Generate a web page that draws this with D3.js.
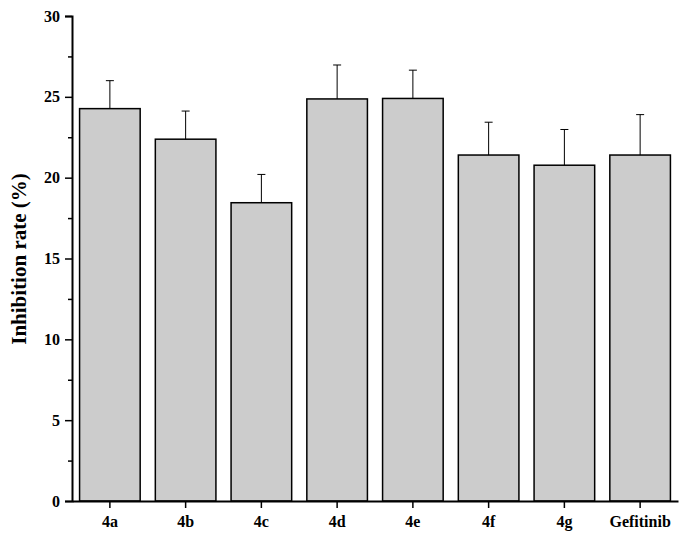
<!DOCTYPE html>
<html><head><meta charset="utf-8">
<script src="https://cdn.jsdelivr.net/npm/d3@7"></script>
<style>body{margin:0;background:#fff}text{font-family:"Liberation Serif","Times New Roman",serif;font-weight:bold}</style>
</head><body><svg id="chart" width="683" height="544"></svg>
<script>
const categories = ['4a', '4b', '4c', '4d', '4e', '4f', '4g', 'Gefitinib'];
const values = [24.27, 22.38, 18.45, 24.87, 24.9, 21.4, 20.77, 21.4];
const errors = [1.73, 1.74, 1.75, 2.1, 1.75, 2.03, 2.21, 2.5];
const yTicks = [0, 5, 10, 15, 20, 25, 30];

const svg = d3.select('#chart');
const x = d3.scaleBand().domain(categories).range([72, 678]).paddingInner(0.2).paddingOuter(0.1);
const y = d3.scaleLinear().domain([0, 30]).range([501, 16]);

// bars
svg.selectAll('.bar').data(categories).enter().append('rect')
  .attr('class', 'bar')
  .attr('x', d => x(d)).attr('width', x.bandwidth())
  .attr('y', (d, i) => y(values[i])).attr('height', (d, i) => y(0) - y(values[i]))
  .attr('fill', '#cccccc').attr('stroke', '#000').attr('stroke-width', 1.5);

// error bars (upper only)
categories.forEach((c, i) => {
  const cx = x(c) + x.bandwidth() / 2;
  svg.append('line').attr('x1', cx).attr('x2', cx)
    .attr('y1', y(values[i])).attr('y2', y(values[i] + errors[i])).attr('stroke', '#000');
  svg.append('line').attr('x1', cx - 4).attr('x2', cx + 4)
    .attr('y1', y(values[i] + errors[i])).attr('y2', y(values[i] + errors[i])).attr('stroke', '#000');
});

// y axis
const yAxis = svg.append('g').attr('transform', 'translate(72,0)')
  .call(d3.axisLeft(y).tickValues(yTicks).tickSize(7).tickPadding(5));
svg.append('g').attr('transform', 'translate(72,0)')
  .call(d3.axisLeft(y).tickValues(d3.range(2.5, 30, 5)).tickSize(4).tickFormat(''))
  .select('.domain').remove();
yAxis.selectAll('text').attr('font-size', 16);

// x axis
const xAxis = svg.append('g').attr('transform', 'translate(0,501)')
  .call(d3.axisBottom(x).tickSize(7).tickPadding(8).tickSizeOuter(0));
xAxis.selectAll('text').attr('font-size', 16);
svg.selectAll('.domain').attr('stroke-width', 2);
svg.selectAll('.tick line').attr('stroke-width', 1.5);

svg.append('text').attr('transform', 'translate(26,259) rotate(-90)')
  .attr('text-anchor', 'middle').attr('font-size', 21).text('Inhibition rate (%)');
</script></body></html>
